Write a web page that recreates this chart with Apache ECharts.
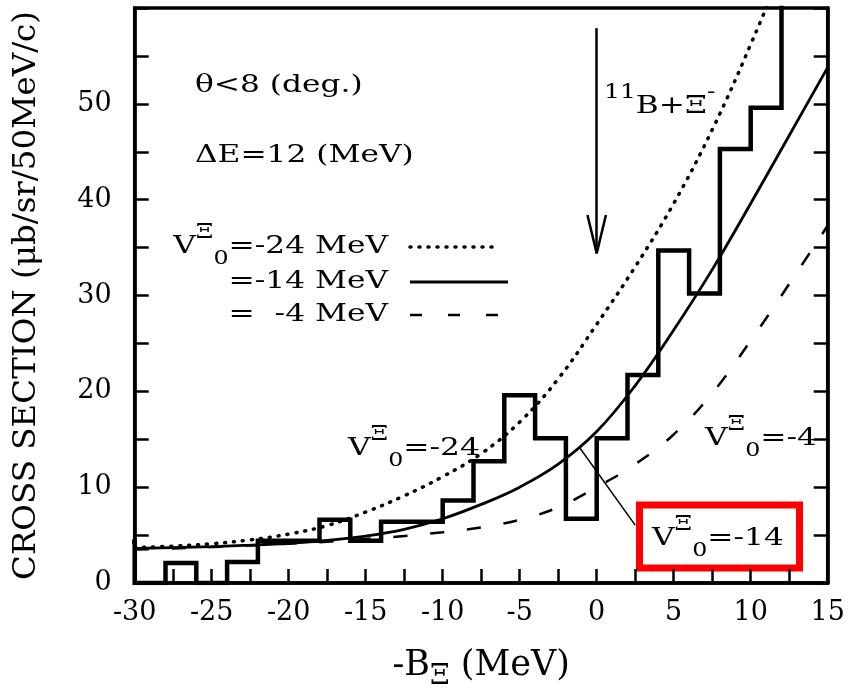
<!DOCTYPE html>
<html>
<head>
<meta charset="utf-8">
<script src="https://cdn.jsdelivr.net/npm/echarts@6/dist/echarts.min.js"></script>
<style>
  html, body { margin: 0; padding: 0; background: #fff; }
  #chart { width: 862px; height: 694px; }
</style>
</head>
<body>
<div id="chart"></div>
<script>
// histogram, 2 MeV bins (lower edge of each bin)
const binStart = [-32, -30, -28, -26, -24, -22, -20, -18, -16, -14, -12, -10, -8, -6, -4, -2, 0, 2, 4, 6, 8, 10, 12, 14];
const binWidth = 2;
const counts = [4.3, 0, 2.1, 0, 2.2, 4.4, 4.4, 6.6, 4.4, 6.4, 6.4, 8.6, 12.7, 19.6, 15.1, 6.7, 15.1, 21.7, 34.7, 30.2, 45.3, 49.6, 68, 68];

// calculated spectra
const curveX = [-30, -27.5, -25, -22.5, -20, -17.5, -15, -12.5, -10, -7.5, -5, -2.5, 0, 2.5, 5, 7.5, 10, 12.5, 15];
const v24 = [3.7, 3.85, 4.1, 4.5, 5.1, 6.0, 7.4, 9.1, 11.1, 13.5, 16.8, 21.3, 27.0, 33.0, 39.6, 47.3, 56.2, 66, 77];
const v14 = [3.6, 3.7, 3.8, 3.95, 4.15, 4.45, 4.9, 5.6, 6.7, 8.2, 10.0, 12.4, 15.8, 20.6, 26.4, 32.7, 39.6, 46.7, 53.8];
const v4 = [3.5, 3.6, 3.75, 3.9, 4.1, 4.3, 4.6, 4.9, 5.3, 5.8, 6.6, 7.9, 10.0, 12.4, 15.5, 19.8, 25.3, 31.2, 37.3];

const xLabels = [-30, -25, -20, -15, -10, -5, 0, 5, 10, 15];
const yLabels = [0, 10, 20, 30, 40, 50];

// 11B + Xi- threshold arrow and the pointer to the -14 curve
const arrowTop = 57.9, arrowTip = 34.4, headTop = 38.4, headHalf = 0.6;
const pointerFrom = [-1.08, 14.06], pointerTo = [2.5, 6.04];

const SERIF = 'DejaVu Serif';
const tok = (size, lh, va) => ({ fontFamily: SERIF, fontSize: size, lineHeight: lh, verticalAlign: va, color: '#000' });
const RICH = {
  n: tok(25, 46, 'middle'),
  sup: tok(20, 20, 'top'),
  sub: tok(19, 20, 'bottom')
};

function txt(x, y, text, align) {
  return {
    type: 'text', x: x, y: y, scaleX: 1.25, silent: true,
    style: {
      text: text, fill: '#000', rich: RICH,
      font: '25px "DejaVu Serif"',
      align: align || 'left', textAlign: align || 'left',
      verticalAlign: 'middle', textVerticalAlign: 'middle'
    }
  };
}

const histPts = [[binStart[0], 0]];
binStart.forEach((x0, i) => {
  histPts.push([x0, counts[i]], [x0 + binWidth, counts[i]]);
});
histPts.push([binStart[binStart.length - 1] + binWidth, 0]);

const chart = echarts.init(document.getElementById('chart'));

const tickStyle = { inside: true, length: 14, lineStyle: { color: '#000', width: 2.5 } };

chart.setOption({
  animation: false,
  grid: {
    left: 134.7, right: 34.3, top: 8, bottom: 111,
    show: true, borderColor: '#000', borderWidth: 3.5,
    containLabel: false, outerBoundsMode: 'none'
  },
  xAxis: {
    type: 'value', min: -30, max: 15, interval: 2.5,
    axisLine: { show: true, onZero: false, lineStyle: { color: '#000', width: 3.5 } },
    axisTick: tickStyle,
    splitLine: { show: false },
    axisLabel: {
      margin: 16, fontFamily: SERIF, fontSize: 27, color: '#000',
      showMinLabel: true, showMaxLabel: true,
      formatter: v => xLabels.includes(v) ? String(v) : ''
    },
    name: '{n|-B}{sub|Ξ}{n| (MeV)}',
    nameLocation: 'middle', nameGap: 58,
    nameTextStyle: {
      rich: {
        n: { fontFamily: SERIF, fontSize: 35, lineHeight: 50, verticalAlign: 'middle', color: '#000' },
        sub: { fontFamily: SERIF, fontSize: 28, lineHeight: 28, verticalAlign: 'bottom', color: '#000' }
      }
    }
  },
  yAxis: [{
    type: 'value', min: 0, max: 60, interval: 5,
    axisLine: { show: true, onZero: false, lineStyle: { color: '#000', width: 3.5 } },
    axisTick: tickStyle,
    splitLine: { show: false },
    axisLabel: {
      margin: 23, fontFamily: SERIF, fontSize: 27, color: '#000',
      formatter: v => yLabels.includes(v) ? String(v) : ''
    },
    name: 'CROSS SECTION (μb/sr/50MeV/c)',
    nameLocation: 'middle', nameGap: 92,
    nameTextStyle: { fontFamily: SERIF, fontSize: 32.5, color: '#000' }
  }, {
    type: 'value', min: 0, max: 60, interval: 5, position: 'right',
    axisLine: { show: true, onZero: false, lineStyle: { color: '#000', width: 3.5 } },
    axisTick: tickStyle,
    axisLabel: { show: false },
    splitLine: { show: false }
  }],
  series: [
    {
      name: 'data', type: 'line', data: histPts, showSymbol: false, clip: true,
      lineStyle: { color: '#000', width: 4.5, join: 'miter' }, z: 3
    },
    {
      name: 'V0=-24', type: 'line', smooth: 0.4, showSymbol: false, clip: true,
      data: curveX.map((x, i) => [x, v24[i]]),
      lineStyle: { color: '#000', width: 3.5, type: [1, 8], cap: 'round' }
    },
    {
      name: 'V0=-14', type: 'line', smooth: 0.4, showSymbol: false, clip: true,
      data: curveX.map((x, i) => [x, v14[i]]),
      lineStyle: { color: '#000', width: 2.8 },
      markLine: {
        silent: true, symbol: ['none', 'none'], animation: false,
        label: { show: false },
        lineStyle: { color: '#000', width: 2.5, type: 'solid' },
        data: [
          [{ coord: [0, arrowTop] }, { coord: [0, arrowTip] }],
          [{ coord: [-headHalf, headTop] }, { coord: [0, arrowTip] }],
          [{ coord: [headHalf, headTop] }, { coord: [0, arrowTip] }],
          [{ coord: pointerFrom, lineStyle: { width: 1.5 } }, { coord: pointerTo }]
        ]
      }
    },
    {
      name: 'V0=-4', type: 'line', smooth: 0.4, showSymbol: false, clip: true,
      data: curveX.map((x, i) => [x, v4[i]]),
      lineStyle: { color: '#000', width: 2.5, type: [14, 23] }
    }
  ],
  graphic: [
    txt(195, 85, '{n|θ<8 (deg.)}'),
    txt(195, 155, '{n|ΔE=12 (MeV)}'),
    txt(388, 246, '{n|V}{sup|Ξ}{sub|0}{n|=-24 MeV}', 'right'),
    txt(388, 281, '{n|=-14 MeV}', 'right'),
    txt(388, 314, '{n|=  -4 MeV}', 'right'),
    { type: 'line', silent: true, shape: { x1: 410, y1: 247, x2: 500, y2: 247 },
      style: { stroke: '#000', lineWidth: 3.5, lineDash: [1, 8], lineCap: 'round' } },
    { type: 'line', silent: true, shape: { x1: 410, y1: 282, x2: 508, y2: 282 },
      style: { stroke: '#000', lineWidth: 2.8 } },
    { type: 'line', silent: true, shape: { x1: 410, y1: 315, x2: 500, y2: 315 },
      style: { stroke: '#000', lineWidth: 2.5, lineDash: [12, 26] } },
    txt(604, 106, '{sup|11}{n|B+Ξ}{sup|-}'),
    txt(348, 448, '{n|V}{sup|Ξ}{sub|0}{n|=-24}'),
    txt(705, 438, '{n|V}{sup|Ξ}{sub|0}{n|=-4}'),
    { type: 'rect', silent: true, shape: { x: 639.5, y: 505, width: 160, height: 63 },
      style: { fill: 'none', stroke: '#ff0000', lineWidth: 7 } },
    txt(652, 538, '{n|V}{sup|Ξ}{sub|0}{n|=-14}')
  ]
});
</script>
</body>
</html>
